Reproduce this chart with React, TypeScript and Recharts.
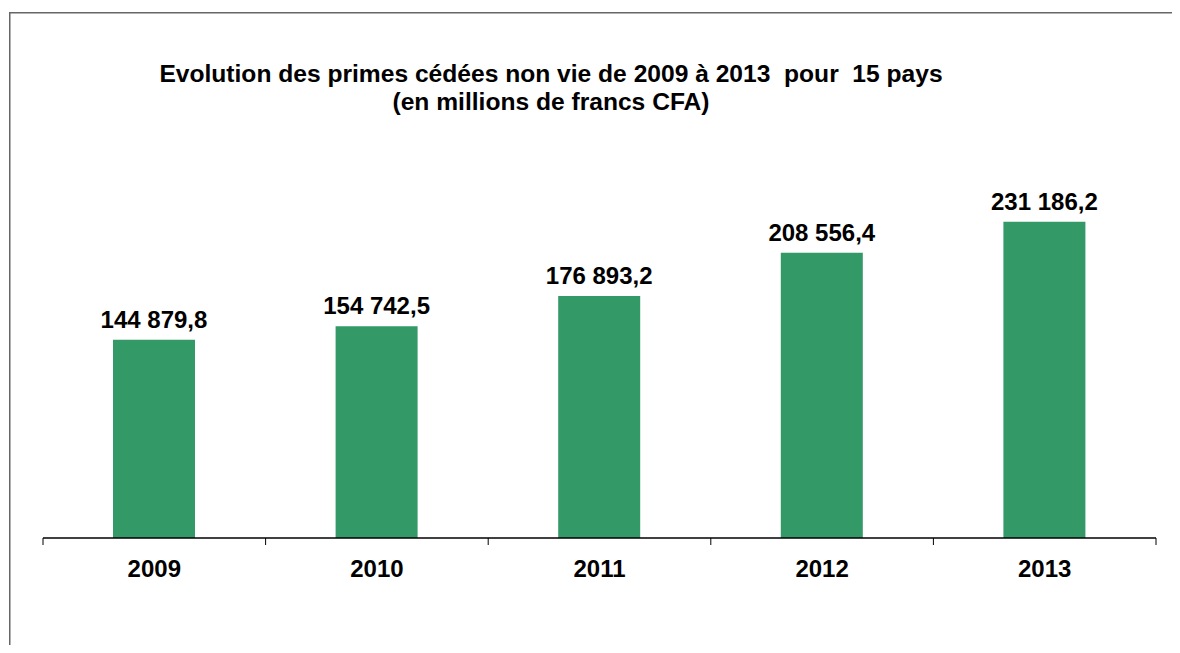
import React from 'react';
import { BarChart, Bar, XAxis, YAxis, LabelList } from 'recharts';

const years = ['2009', '2010', '2011', '2012', '2013'];
const primesCedees = [144879.8, 154742.5, 176893.2, 208556.4, 231186.2];

const data = years.map((year, i) => ({ year, value: primesCedees[i] }));

const FONT = 'Liberation Sans, Arial, sans-serif';

// 144879.8 -> "144 879,8"
const formatFr = (v: number) => {
  const [int, dec] = v.toFixed(1).split('.');
  return int.replace(/\B(?=(\d{3})+(?!\d))/g, ' ') + ',' + dec;
};

// category tick: label centred, tick marks on the band edges
const YearTick = (props: any) => {
  const { x, y, payload, index } = props;
  const half = payload.offset || 0;
  const last = index === years.length - 1;
  return (
    <g>
      <line x1={x - half} y1={y} x2={x - half} y2={y + 7} stroke="#000" strokeWidth={1} />
      {last && <line x1={x + half} y1={y} x2={x + half} y2={y + 7} stroke="#000" strokeWidth={1} />}
      <text x={x} y={y + 39} textAnchor="middle" fontFamily={FONT} fontWeight="bold" fontSize={24} fill="#000">
        {payload.value}
      </text>
    </g>
  );
};

// value above the bar, on one line
const ValueLabel = (props: any) => {
  const { x, y, width, value } = props;
  return (
    <text x={x + width / 2} y={y - 12} textAnchor="middle" fontFamily={FONT} fontWeight="bold" fontSize={24} fill="#000">
      {formatFr(Number(value))}
    </text>
  );
};

const App: React.FC = () => {
  return (
    <div style={{ position: 'relative', width: 1164, height: 637 }}>
      {/* chart frame: only the top and left edges fall inside the page */}
      <svg width={1172} height={637} style={{ position: 'absolute', left: 0, top: 0 }}>
        <polyline points="1.75,637 1.75,4.75 1172,4.75" fill="none" stroke="#666" strokeWidth={1.5} />
      </svg>
      <div
        style={{
          position: 'absolute',
          left: 143,
          width: 800,
          top: 52,
          textAlign: 'center',
          fontFamily: FONT,
          fontWeight: 'bold',
          fontSize: 24.6,
          lineHeight: '28px',
          color: '#000',
          whiteSpace: 'pre',
        }}
      >
        {'Evolution des primes cédées non vie de 2009 à 2013  pour  15 pays\n(en millions de francs CFA)'}
      </div>
      <div style={{ position: 'absolute', left: 0, top: 0 }}>
        <BarChart
          width={1164}
          height={637}
          data={data}
          barSize={82}
          margin={{ top: 188, right: 16, left: 35, bottom: 67 }}
        >
          <XAxis
            dataKey="year"
            height={40}
            tickSize={0}
            tickMargin={0}
            tickLine={false}
            axisLine={{ stroke: '#000', strokeWidth: 1.5 }}
            tick={<YearTick />}
            interval={0}
          />
          <YAxis hide domain={[0, 250000]} />
          <Bar dataKey="value" fill="#339966" isAnimationActive={false}>
            <LabelList dataKey="value" content={<ValueLabel />} />
          </Bar>
        </BarChart>
      </div>
    </div>
  );
};

export default App;
